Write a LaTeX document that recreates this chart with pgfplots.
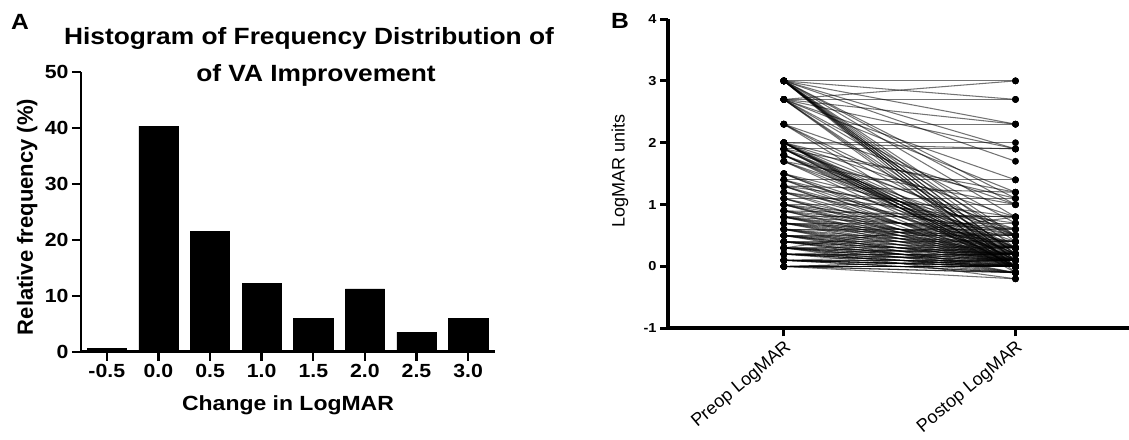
\documentclass[border=0pt]{standalone}
\usepackage{fontspec}
\setmainfont{Liberation Sans}
\newfontfamily\hfont[FakeStretch=1.12]{Liberation Sans}
\usepackage{pgfplots}
\pgfplotsset{compat=1.18}
\usepackage{pgfplotstable}

\pgfplotstableread{
x y
-0.5 0.6
0 40.3
0.5 21.5
1 12.2
1.5 5.9
2 11.2
2.5 3.5
3 5.9
}\histA

\pgfplotstableread{
pre post
3.0 3.0
3.0 2.7
3.0 2.3
3.0 1.9
3.0 1.7
3.0 1.0
3.0 0.8
3.0 0.5
3.0 0.3
3.0 0.2
3.0 0.1
3.0 0.0
3.0 0.1
3.0 0.2
3.0 0.0
3.0 -0.1
3.0 0.4
3.0 1.1
2.7 2.7
2.7 3.0
2.7 2.3
2.7 1.9
2.7 1.2
2.7 0.7
2.7 0.5
2.7 0.2
2.7 0.0
2.7 0.1
2.7 1.4
2.3 2.3
2.3 1.0
2.3 0.3
2.3 0.0
2.3 0.5
2.0 2.0
2.0 1.9
2.0 0.1
2.0 0.0
2.0 0.2
2.0 0.3
2.0 0.5
2.0 0.1
2.0 1.1
2.0 0.8
2.0 0.0
2.0 -0.1
1.9 1.9
1.9 0.0
1.9 0.2
1.9 0.3
1.9 0.1
1.9 0.6
1.9 1.2
1.9 0.0
1.8 0.1
1.8 0.3
1.8 0.0
1.8 0.5
1.8 0.2
1.7 0.0
1.7 0.2
1.7 1.0
1.7 0.4
1.5 0.1
1.5 0.3
1.5 0.0
1.5 0.6
1.4 0.2
1.4 0.0
1.4 0.5
1.4 1.4
1.3 0.1
1.3 0.3
1.3 0.0
1.3 0.8
1.3 1.2
1.2 0.2
1.2 0.0
1.2 0.5
1.2 0.7
1.1 1.1
1.1 0.1
1.1 0.3
1.1 0.0
1.0 1.0
1.0 0.2
1.0 0.0
1.0 0.4
1.0 0.1
1.0 0.6
0.9 0.1
0.9 0.3
0.9 0.0
0.9 0.5
0.9 0.8
0.8 0.8
0.8 0.1
0.8 0.2
0.8 0.0
0.8 0.4
0.8 0.3
0.8 0.6
0.7 0.0
0.7 0.2
0.7 0.1
0.7 0.5
0.7 0.7
0.7 0.3
0.7 0.4
0.6 0.1
0.6 0.0
0.6 0.3
0.6 0.5
0.6 0.2
0.6 0.6
0.6 -0.1
0.5 0.0
0.5 0.2
0.5 0.1
0.5 0.5
0.5 0.3
0.5 0.4
0.5 -0.1
0.5 0.1
0.4 0.0
0.4 0.1
0.4 0.2
0.4 0.4
0.4 0.3
0.4 -0.1
0.4 0.0
0.4 0.2
0.3 0.0
0.3 0.1
0.3 0.2
0.3 0.3
0.3 0.0
0.3 -0.1
0.3 0.1
0.3 0.2
0.3 -0.2
0.2 0.0
0.2 0.1
0.2 0.2
0.2 0.0
0.2 -0.1
0.2 0.1
0.2 0.2
0.2 0.0
0.2 0.3
0.1 0.0
0.1 0.1
0.1 0.0
0.1 -0.1
0.1 0.1
0.1 0.0
0.1 0.2
0.1 -0.1
0.1 0.0
0.0 0.0
0.0 0.0
0.0 -0.1
0.0 0.1
0.0 0.0
0.0 -0.2
0.0 0.0
0.0 0.1
0.0 -0.1
0.3 0.8
}\pairs

\begin{document}
\begin{tikzpicture}
\useasboundingbox (0,0) rectangle (1129pt,-439pt);

% ---------------- Panel A ----------------
\begin{axis}[
  at={(81pt,-351.7pt)}, anchor=south west,
  scale only axis, width=414pt, height=280pt,
  xmin=-0.75, xmax=3.26, ymin=0, ymax=50,
  axis x line*=bottom, axis y line*=left,
  axis line style={-, line width=2.7pt, black},
  xtick={-0.5,0,0.5,1,1.5,2,2.5,3},
  xticklabels={-0.5,0.0,0.5,1.0,1.5,2.0,2.5,3.0},
  ytick={0,10,20,30,40,50},
  yticklabels={0,10,20,30,40,50},
  tick align=outside, major tick length=9pt,
  major tick style={line width=2.4pt, black},
  xticklabel style={font=\hfont\bfseries\fontsize{19}{21}\selectfont},
  yticklabel style={font=\hfont\bfseries\fontsize{19}{21}\selectfont},
  xlabel={Change in LogMAR},
  ylabel={Relative frequency (\%)},
  every axis x label/.style={at={(axis description cs:0.5,-0.19)}, anchor=center,
    font=\hfont\bfseries\fontsize{20.5}{22}\selectfont},
  every axis y label/.style={at={(axis description cs:-0.13,0.481)}, anchor=center, rotate=90,
    font=\bfseries\fontsize{22}{24}\selectfont},
  clip=false,
]
\addplot[ybar, bar width=0.38, fill=black, draw=black, line width=0.5pt] table[x=x, y=y] {\histA};
\end{axis}

% ---------------- Panel B ----------------
\begin{axis}[
  at={(668pt,-328.3pt)}, anchor=south west,
  scale only axis, width=461pt, height=309.3pt,
  xmin=-0.5, xmax=1.49, ymin=-1, ymax=4,
  axis x line*=bottom, axis y line*=left,
  axis line style={-, line width=4pt, black},
  xtick={0,1}, xticklabels={Preop LogMAR, Postop LogMAR},
  ytick={-1,0,1,2,3,4}, yticklabels={-1,0,1,2,3,4},
  tick align=outside, major tick length=8pt,
  major tick style={line width=3pt, black},
  xticklabel style={font=\fontsize{18}{20}\selectfont, rotate=40, anchor=north east, inner sep=2pt},
  yticklabel style={font=\hfont\bfseries\fontsize{13}{15}\selectfont},
  ylabel={LogMAR units},
  every axis y label/.style={at={(axis description cs:-0.104,0.509)}, anchor=center, rotate=90,
    font=\fontsize{18}{20}\selectfont},
  clip=false,
]
\addplot[black, opacity=0.55, line width=1.05pt,
  quiver={u=1, v=\thisrow{post}-\thisrow{pre}}] table[x expr=0, y=pre] {\pairs};
\addplot[only marks, mark=*, mark size=3.2pt, black] table[x expr=0, y=pre] {\pairs};
\addplot[only marks, mark=*, mark size=3.2pt, black] table[x expr=1, y=post] {\pairs};
\end{axis}

\node[font=\hfont\bfseries\fontsize{22}{24}\selectfont] at (20pt,-21.7pt) {A};
\node[font=\hfont\bfseries\fontsize{22}{24}\selectfont] at (620pt,-20.5pt) {B};
\node[anchor=base, font=\hfont\bfseries\fontsize{23.5}{26}\selectfont] at (309pt,-44pt) {Histogram of Frequency Distribution of};
\node[anchor=base, font=\hfont\bfseries\fontsize{23.5}{26}\selectfont] at (316pt,-81pt) {of VA Improvement};
\end{tikzpicture}
\end{document}
